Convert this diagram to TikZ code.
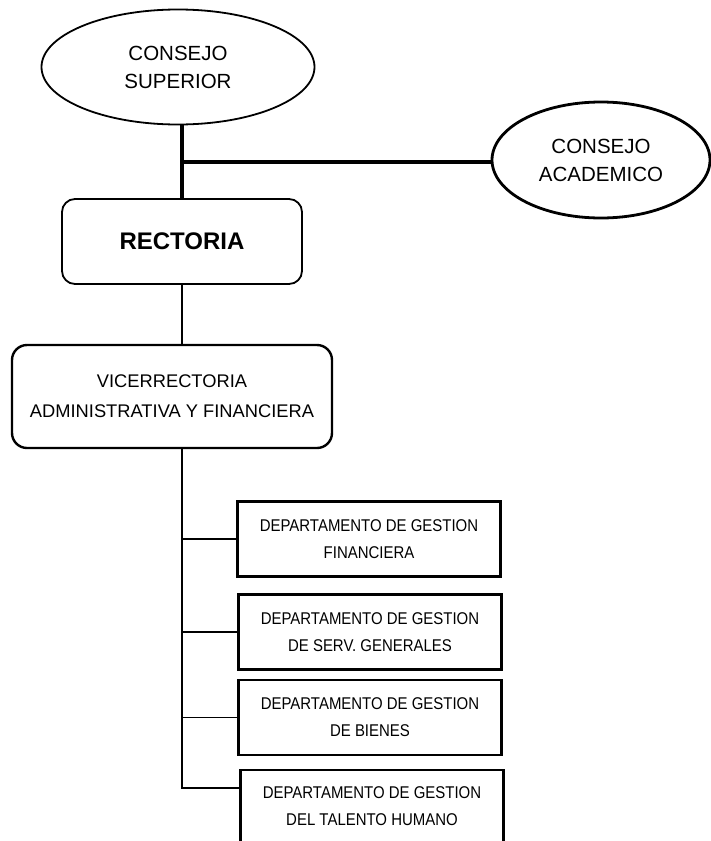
\documentclass[tikz,border=0pt]{standalone}
\usepackage{fontspec}
\setmainfont{Liberation Sans}
\newfontfamily\estrecha[FakeStretch=0.88]{Liberation Sans}
\usetikzlibrary{shapes.geometric}
\begin{document}
\begin{tikzpicture}[x=1pt,y=-1pt,
    consejo/.style={draw,ellipse,inner sep=0pt,align=center,font=\fontsize{20.5}{28}\selectfont},
    oficina/.style={draw,rounded corners=13pt,align=center},
    depto/.style={draw,line width=2.4pt,minimum width=263pt,minimum height=75pt,align=center,font=\estrecha\fontsize{17}{27}\selectfont},
    grueso/.style={line width=3.2pt},
    fino/.style={line width=1.3pt}]
    \useasboundingbox (0,0) rectangle (711,841);

    % consejos
    \node[consejo,line width=1.8pt,minimum width=273pt,minimum height=115pt] (superior) at (178,67) {CONSEJO\\SUPERIOR};
    \node[consejo,line width=2.8pt,minimum width=218pt,minimum height=116pt] (academico) at (601,160) {CONSEJO\\ACADEMICO};

    % rectoria y vicerrectoria
    \node[oficina,line width=1.8pt,minimum width=240pt,minimum height=85pt,font=\bfseries\fontsize{24}{28}\selectfont] (rectoria) at (182,241.5) {RECTORIA};
    \node[oficina,line width=2.4pt,rounded corners=15pt,minimum width=320pt,minimum height=103pt,font=\fontsize{18.3}{30}\selectfont] (vice) at (172,396.5) {VICERRECTORIA\\ADMINISTRATIVA Y FINANCIERA};

    % departamentos
    \node[depto] (financiera) at (369,539) {DEPARTAMENTO DE GESTION\\FINANCIERA};
    \node[depto] (servicios) at (370,632) {DEPARTAMENTO DE GESTION\\DE SERV. GENERALES};
    \node[depto] (bienes) at (370,717.5) {DEPARTAMENTO DE GESTION\\DE BIENES};
    \node[depto,minimum height=72pt] (talento) at (372,806) {DEPARTAMENTO DE GESTION\\DEL TALENTO HUMANO};

    \coordinate (cruce) at (182,162);
    \draw[grueso] (rectoria.north |- superior.south) -- (rectoria.north);
    \draw[grueso] (cruce) -- (cruce -| academico.west);
    \draw[fino] (rectoria.south) -- (rectoria.south |- vice.north);
    \draw[fino] (rectoria.south |- vice.south) |- ([yshift=18pt]talento.west);
    \draw[fino] (rectoria.south |- financiera.west) -- (financiera.west);
    \draw[fino] (rectoria.south |- servicios.west) -- (servicios.west);
    \draw[fino] (rectoria.south |- bienes.west) -- (bienes.west);
\end{tikzpicture}
\end{document}
